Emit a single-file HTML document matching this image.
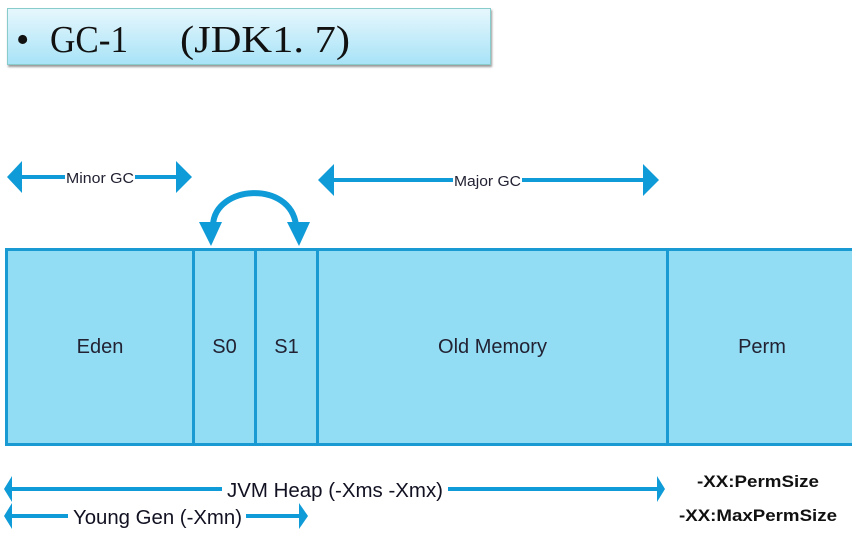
<!DOCTYPE html>
<html><head><style>
body{margin:0;width:852px;height:539px;background:#fff;position:relative;overflow:hidden;font-family:"Liberation Sans",sans-serif}
.t{position:absolute;left:7px;top:8px;width:482px;height:55px;background:linear-gradient(#e6f7fd,#a8e3f7);border:1px solid #8cc;box-shadow:1px 2px 2px #999}
.b{position:absolute;top:248px;height:192px;background:#92ddf4;border:3px solid #1a9ad3;display:flex;align-items:center;justify-content:center;font-size:20px;color:#223}
</style></head><body>
<div class="t"></div>
<div class="b" style="left:5px;width:184px">Eden</div>
<div class="b" style="left:192px;width:59px">S0</div>
<div class="b" style="left:254px;width:59px">S1</div>
<div class="b" style="left:316px;width:347px">Old Memory</div>
<div class="b" style="left:666px;width:186px">Perm</div>
<svg width="852" height="539" style="position:absolute;left:0;top:0" font-family="Liberation Sans, sans-serif">
<g font-family="Liberation Serif, Noto Serif CJK SC, serif" font-size="38" fill="#111">
<text x="16" y="52">•</text>
<text x="50" y="52" textLength="78" lengthAdjust="spacingAndGlyphs">GC-1</text>
<text x="180" y="52" textLength="170" lengthAdjust="spacingAndGlyphs">(JDK1. 7)</text>
</g>
<g fill="#0f9bd7" stroke="#0f9bd7">
<line x1="15" y1="177" x2="180" y2="177" stroke-width="4"/>
<polygon points="7,177 22,161 22,193" stroke="none"/>
<polygon points="192,177 176,161 176,193" stroke="none"/>
<line x1="325" y1="180" x2="650" y2="180" stroke-width="4"/>
<polygon points="318,180 334,164 334,196" stroke="none"/>
<polygon points="659,180 643,164 643,196" stroke="none"/>
<path d="M213,225 C215,185 290,180 296,225" fill="none" stroke-width="6"/>
<polygon points="199,222 222,222 211,246" stroke="none"/>
<polygon points="287,222 310,222 299,246" stroke="none"/>
<line x1="12" y1="489" x2="658" y2="489" stroke-width="4"/>
<polygon points="4,489 12,476 12,502" stroke="none"/>
<polygon points="665,489 657,476 657,502" stroke="none"/>
<line x1="12" y1="516" x2="300" y2="516" stroke-width="4"/>
<polygon points="4,516 12,503 12,529" stroke="none"/>
<polygon points="308,516 299,503 299,529" stroke="none"/>
</g>
<g font-size="15" fill="#223">
<rect x="65" y="168" width="70" height="18" fill="#fff"/><text x="66" y="183" textLength="68" lengthAdjust="spacingAndGlyphs">Minor GC</text>
<rect x="453" y="171" width="69" height="18" fill="#fff"/><text x="454" y="186" textLength="67" lengthAdjust="spacingAndGlyphs">Major GC</text>
</g>
<g font-size="20" fill="#112">
<rect x="222" y="478" width="226" height="24" fill="#fff"/><text x="227" y="497" textLength="216" lengthAdjust="spacingAndGlyphs">JVM Heap (-Xms -Xmx)</text>
<rect x="68" y="505" width="178" height="24" fill="#fff"/><text x="73" y="524" textLength="169" lengthAdjust="spacingAndGlyphs">Young Gen (-Xmn)</text>
</g>
<g font-size="17" font-weight="bold" fill="#111">
<text x="697" y="487" textLength="122" lengthAdjust="spacingAndGlyphs">-XX:PermSize</text>
<text x="679" y="521" textLength="158" lengthAdjust="spacingAndGlyphs">-XX:MaxPermSize</text>
</g>
</svg>
</body></html>
